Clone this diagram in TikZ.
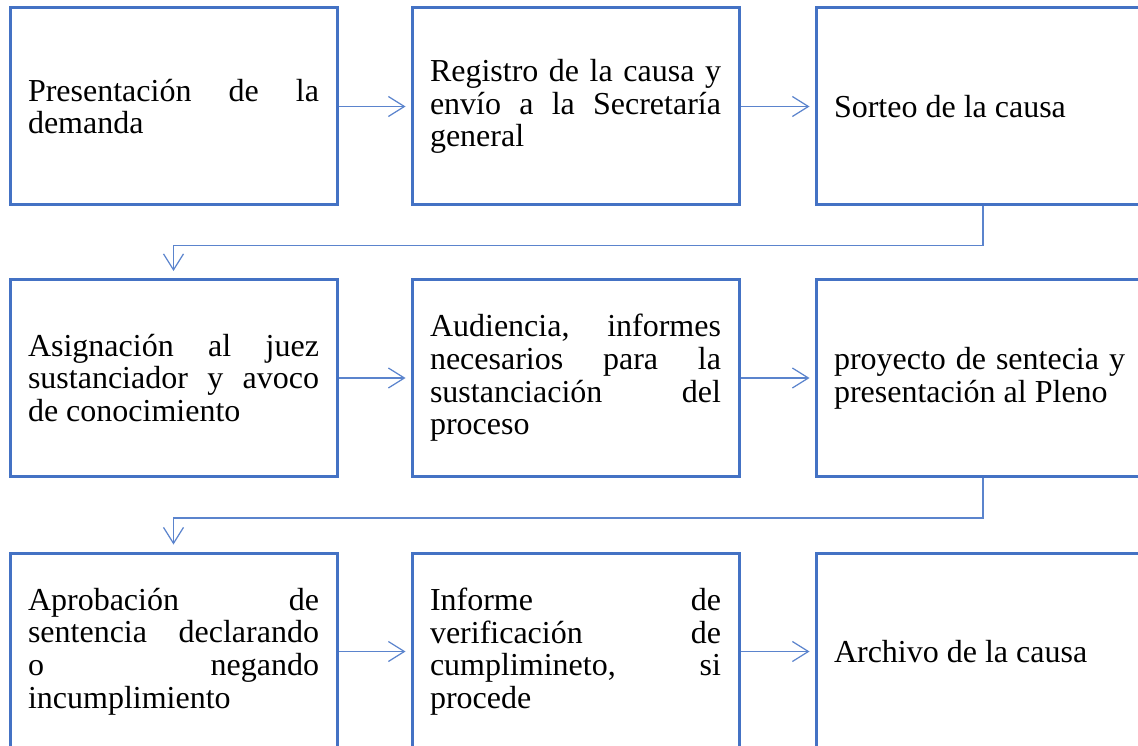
\documentclass[tikz,border=0pt]{standalone}
\usepackage{fontspec}
\setmainfont{Liberation Serif}
\usetikzlibrary{arrows.meta,calc}
\definecolor{boxblue}{HTML}{4472C4}
\definecolor{lineblue}{HTML}{5B84CD}
\hyphenpenalty=10000
\exhyphenpenalty=10000
\tolerance=10000
\hbadness=10000
\begin{document}
\begin{tikzpicture}[x=1pt,y=-1pt,
  stepbox/.style={draw=boxblue,line width=3pt,minimum width=327pt,minimum height=197pt,
    text width=291pt,inner xsep=18pt,inner ysep=0pt,align=justify,
    font=\fontsize{32}{32.7}\selectfont},
  conn/.style={draw=lineblue,line width=1.2pt,
    -{Straight Barb[length=16pt,width=20pt,line width=1.2pt]},shorten >=5pt},
  connv/.style={conn,shorten >=7pt}]
\useasboundingbox (0,0) rectangle (1138,746);
\clip (0,0) rectangle (1138,746);
\fill[white] (0,0) rectangle (1138,746);
% row 1
\node[stepbox] (b1) at (173.5,106.5) {Presentación de la\linebreak demanda};
\node[stepbox] (b2) at (575.5,106.5) {Registro de la causa y\linebreak envío a la Secretaría\linebreak general};
\node[stepbox] (b3) at (979.5,106.5) {Sorteo de la causa};
% row 2
\node[stepbox] (b4) at (173.5,378) {Asignación al juez\linebreak sustanciador y avoco\linebreak de conocimiento};
\node[stepbox] (b5) at (575.5,378) {Audiencia, informes\linebreak necesarios para la\linebreak sustanciación del\linebreak proceso};
\node[stepbox] (b6) at (979.5,378) {proyecto de sentecia y\linebreak presentación al Pleno};
% row 3
\node[stepbox] (b7) at (173.5,651.5) {Aprobación de\linebreak sentencia declarando\linebreak o negando\linebreak incumplimiento};
\node[stepbox] (b8) at (575.5,651.5) {Informe de\linebreak verificación de\linebreak cumplimineto, si\linebreak procede};
\node[stepbox] (b9) at (979.5,651.5) {Archivo de la causa};
% connectors
\draw[conn] (b1.east) -- (b2.west);
\draw[conn] (b2.east) -- (b3.west);
\draw[connv] ([xshift=3.5pt]b3.south) -- ++(0,39) -| (b4.north);
\draw[conn] (b4.east) -- (b5.west);
\draw[conn] (b5.east) -- (b6.west);
\draw[connv] ([xshift=3.5pt]b6.south) -- ++(0,40) -| (b7.north);
\draw[conn] (b7.east) -- (b8.west);
\draw[conn] (b8.east) -- (b9.west);
\end{tikzpicture}
\end{document}
